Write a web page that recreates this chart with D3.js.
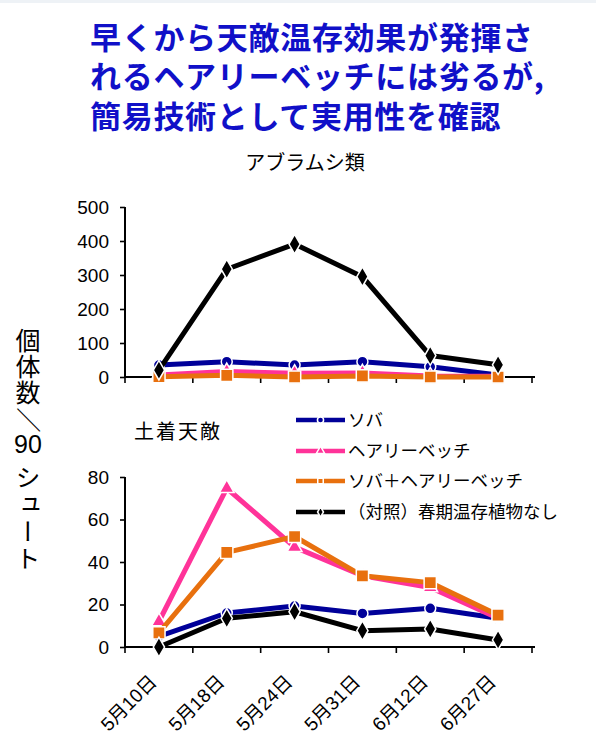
<!DOCTYPE html>
<html><head><meta charset="utf-8">
<script src="https://cdn.jsdelivr.net/npm/d3@7"></script>
<style>
  html,body{margin:0;padding:0;background:#fff;}
  #wrap{position:relative;width:596px;height:756px;}
  svg{display:block;}
  svg text{font-family:"Liberation Sans","Noto Sans CJK JP",sans-serif;}
  svg text.cjk{font-family:"Noto Sans CJK JP",sans-serif;}
  #title{position:absolute;left:90px;top:15.7px;margin:0;
    font-family:"Noto Sans CJK JP",sans-serif;font-size:31px;font-weight:bold;
    line-height:39.5px;letter-spacing:0.7px;color:#1010c8;white-space:nowrap;}
  #title div{height:39.5px;}
</style></head>
<body>
<div id="wrap">
<svg id="chart" width="596" height="756"></svg>
<div id="title"></div>
</div>
<script>
// Sampling dates
const dates = ["5月10日","5月18日","5月24日","5月31日","6月12日","6月27日"];
// Series names (legend)
const seriesNames = ["ソバ","ヘアリーベッチ","ソバ＋ヘアリーベッチ","（対照）春期温存植物なし"];
// Aphids (アブラムシ類), individuals / 90 shoots
const aphidSoba    = [35, 45, 35, 45, 30, 6];
const aphidVetch   = [6, 16, 11, 12, 3, 2];
const aphidMix     = [1, 5, 0, 3, 0, 0];
const aphidControl = [20, 317, 391, 295, 63, 36];
// Native natural enemies (土着天敵), individuals / 90 shoots
const enemySoba    = [5, 16, 19.3, 15.8, 18.2, 13.5];
const enemyVetch   = [12, 74.7, 47, 33.5, 28, 13.5];
const enemyMix     = [6.7, 44.5, 52, 33.5, 30.3, 15];
const enemyControl = [0, 13.5, 16.6, 7.7, 8.5, 3.3];
// Tick values
const aphidTicks = [0, 100, 200, 300, 400, 500];
const enemyTicks = [0, 20, 40, 60, 80];

const colors  = ["#000099", "#ff3399", "#e8700e", "#000000"];
const shapes  = [d3.symbolCircle, d3.symbolTriangle, d3.symbolSquare, d3.symbolDiamond];
const sizes   = [95, 95, 150, 110];

const svg = d3.select("#chart");

// thin band along the top edge
svg.append("rect").attr("x",0).attr("y",0).attr("width",596).attr("height",3).attr("fill","#eef2f6");

// Title, three lines
const titleLines = ["早くから天敵温存効果が発揮さ","れるヘアリーベッチには劣るが,","簡易技術として実用性を確認"];
d3.select("#title").selectAll("div").data(titleLines).join("div").text(d => d);

const x = d3.scaleBand().domain(dates).range([125, 532]);

function drawPanel(yRange, domain, ticks, data, showLabels) {
  const y = d3.scaleLinear().domain(domain).range(yRange);
  const g = svg.append("g");
  // y axis
  const ya = g.append("g").attr("transform", `translate(${x.range()[0]},0)`)
    .call(d3.axisLeft(y).tickValues(ticks).tickSize(5).tickPadding(11).tickFormat(d3.format("d")));
  ya.select(".domain").attr("stroke","#000").attr("stroke-width",2).attr("d", `M-0,${yRange[0]}V${yRange[1]}`);
  ya.selectAll(".tick line").attr("stroke","#000").attr("stroke-width",1.6);
  ya.selectAll(".tick text").attr("font-size",19).attr("fill","#000");
  // x axis with ticks at band boundaries
  const xa = g.append("g").attr("transform", `translate(0,${yRange[0]})`);
  xa.append("line").attr("x1", x.range()[0]).attr("x2", x.range()[1]+3)
    .attr("stroke","#000").attr("stroke-width",2);
  const bounds = dates.map(d => x(d)).concat([x.range()[1]]);
  xa.selectAll("line.t").data(bounds).join("line").attr("class","t")
    .attr("x1", d => d).attr("x2", d => d).attr("y1", 0).attr("y2", 6)
    .attr("stroke","#000").attr("stroke-width",1.6);
  if (showLabels) {
    xa.selectAll("text.l").data(dates).join("text").attr("class","l")
      .attr("transform", d => `translate(${x(d)+x.bandwidth()/2-1},${36}) rotate(-45)`)
      .attr("text-anchor","end").attr("font-size",19).attr("fill","#000")
      .text(d => d);
  }
  // series
  const line = d3.line().x((d,i) => x(dates[i]) + x.bandwidth()/2).y(d => y(d));
  data.forEach((vals, s) => {
    g.append("path").datum(vals).attr("d", line).attr("fill","none")
      .attr("stroke", colors[s]).attr("stroke-width", 5).attr("stroke-linejoin","round");
    g.selectAll(null).data(vals).join("path")
      .attr("transform", (d,i) => `translate(${x(dates[i]) + x.bandwidth()/2},${y(d)})`)
      .attr("d", d3.symbol().type(shapes[s]).size(sizes[s]))
      .attr("fill", colors[s]).attr("stroke","#fff").attr("stroke-width",1.5);
  });
}

drawPanel([377, 207], [0, 500], aphidTicks, [aphidSoba, aphidVetch, aphidMix, aphidControl], false);
drawPanel([647, 477], [0, 80], enemyTicks, [enemySoba, enemyVetch, enemyMix, enemyControl], true);

// panel headings
svg.append("text").attr("class","cjk").attr("x", 305).attr("y", 170).attr("text-anchor","middle")
  .attr("font-size", 20).attr("fill","#000").text("アブラムシ類");
svg.append("text").attr("class","cjk").attr("x", 134).attr("y", 439)
  .attr("font-size", 20).attr("letter-spacing", 2).attr("fill","#000").text("土着天敵");

// y axis label, set vertically: 個体数 / 90 シュート
const yLabel = svg.append("g").attr("fill","#000");
yLabel.append("text").attr("class","cjk").attr("x", 28).attr("y", 328)
  .attr("font-size", 25).style("writing-mode","vertical-rl").style("text-orientation","upright")
  .attr("letter-spacing", 1).text("個体数");
yLabel.append("text").attr("class","cjk")
  .attr("transform", "translate(28,420) rotate(90)")
  .attr("text-anchor","middle").attr("dy","0.35em")
  .attr("font-size", 25).text("／");
yLabel.append("text").attr("x", 28).attr("y", 453).attr("text-anchor","middle")
  .attr("font-size", 25).text("90");
yLabel.append("text").attr("class","cjk").attr("x", 28).attr("y", 465)
  .attr("font-size", 25).style("writing-mode","vertical-rl").style("text-orientation","upright")
  .attr("letter-spacing", 2).text("シュート");

// legend
const legend = svg.append("g");
const rowY = [420, 451, 481, 512];
seriesNames.forEach((name, s) => {
  const gy = rowY[s];
  legend.append("line").attr("x1", 296).attr("x2", 345).attr("y1", gy).attr("y2", gy)
    .attr("stroke", colors[s]).attr("stroke-width", 4.5);
  legend.append("path").attr("transform", `translate(320.5,${gy})`)
    .attr("d", d3.symbol().type(shapes[s]).size(30))
    .attr("fill", colors[s]).attr("stroke","#fff").attr("stroke-width",1.5);
  legend.append("text").attr("class","cjk").attr("x", 348).attr("y", gy + 6).attr("font-size", 17.5)
    .attr("fill","#000").text(name);
});
</script>
</body></html>
